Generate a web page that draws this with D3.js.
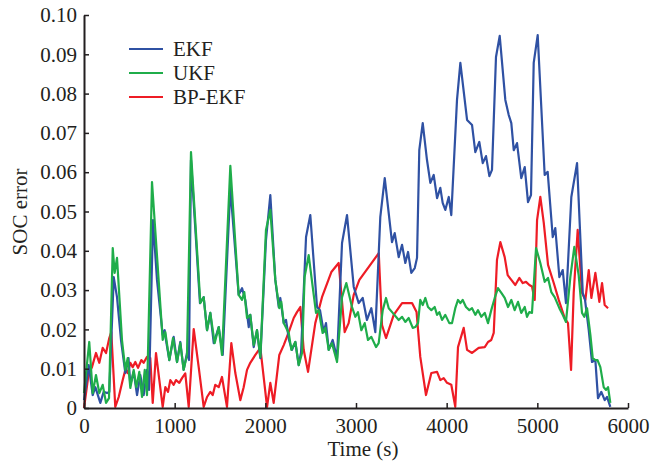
<!DOCTYPE html>
<html>
<head>
<meta charset="utf-8">
<script src="https://cdn.jsdelivr.net/npm/d3@7"></script>
<style>
  body { margin: 0; background: #fff; }
  text { font-family: "Liberation Serif", "Times New Roman", serif; fill: #231f20; }
</style>
</head>
<body>
<div id="chart"></div>
<script>
var width = 653,
    height = 463,
    margin = {top: 15, right: 25, bottom: 55, left: 84};

var seriesNames = ["EKF", "UKF", "BP-EKF"],
    seriesColors = ["#2f51a3", "#1fad4a", "#ee1c25"];

var xTicks = [0, 1000, 2000, 3000, 4000, 5000, 6000],
    yTicks = [0, 0.01, 0.02, 0.03, 0.04, 0.05, 0.06, 0.07, 0.08, 0.09, 0.10];

// EKF
var ekfTime = [0,52,96,125,180,217,254,279,328,364,408,456,491,511,548,585,621,658,695,717,761,805,868,890,904,941,989,1026,1062,1099,1136,1158,
  1180,1279,1320,1357,1393,1431,1486,1530,1614,1706,1743,1779,1817,1834,1872,1908,1945,2007,2055,2110,2148,2165,2203,2228,2261,2294,2331,2368,2394,
  2449,2496,2570,2603,2644,2669,2699,2743,2791,2846,2901,2975,3030,3074,3121,3169,3213,3268,3317,3397,3427,3471,3508,3544,3574,3610,3648,3673,
  3698,3736,3783,3820,3857,3894,3930,3956,3985,4023,4051,4114,4151,4225,4280,4316,4360,4398,4434,4471,4500,4544,4585,4647,4684,4713,4740,4776,
  4823,4861,4897,4930,4960,5004,5081,5114,5170,5198,5243,5280,5316,5375,5438,5501,5526,5567,5603,5640,5669,5706,5743,5769,5805];
var ekfErr = [0.0020,0.0109,0.0033,0.0053,0.0013,0.0041,0.0038,0.0041,0.0333,0.0282,0.0173,0.0089,0.0127,0.0059,0.0092,0.0033,0.0084,0.0033,0.0097,0.0046,
  0.0478,0.0326,0.0186,0.0198,0.0173,0.0122,0.0181,0.0117,0.0168,0.0097,0.0140,0.0122,
  0.0631,0.0267,0.0282,0.0198,0.0242,0.0165,0.0206,0.0135,0.0560,0.0288,0.0305,0.0275,0.0206,0.0237,0.0155,0.0198,0.0127,0.0427,0.0542,0.0326,0.0257,
  0.0280,0.0216,0.0224,0.0173,0.0148,0.0168,0.0109,0.0142,
  0.0435,0.0491,0.0257,0.0249,0.0193,0.0216,0.0148,0.0173,0.0127,0.0420,0.0491,0.0308,0.0267,0.0280,0.0224,0.0254,0.0193,0.0486,0.0585,0.0422,0.0445,
  0.0384,0.0415,0.0369,0.0397,0.0344,0.0356,0.0382,
  0.0656,0.0725,0.0631,0.0573,0.0593,0.0534,0.0560,0.0522,0.0504,0.0537,0.0491,0.0784,0.0878,0.0733,0.0720,0.0651,0.0677,0.0623,0.0641,0.0590,0.0606,
  0.0893,0.0947,0.0784,0.0746,0.0725,0.0656,0.0674,
  0.0585,0.0613,0.0524,0.0542,0.0878,0.0949,0.0593,0.0601,0.0435,0.0458,0.0333,0.0351,0.0267,0.0537,0.0623,0.0293,0.0275,0.0198,0.0117,0.0122,0.0025,
  0.0041,0.0020,0.0028,0.0003];

// UKF
var ukfTime = [0,58,96,132,169,206,243,276,317,338,364,419,456,482,511,548,577,610,640,670,695,750,868,897,941,982,1026,1062,1099,1136,
  1180,1283,1320,1357,1393,1441,1486,1522,1614,1706,1743,1768,1798,1834,1872,1908,1945,2007,2055,2110,2154,2176,2203,2258,2287,2331,2368,2405,
  2433,2478,2559,2588,2632,2662,2699,2735,2791,2846,2893,2956,2993,3022,3059,3096,3132,3169,3221,3250,3295,3331,3361,3405,3471,3508,3544,3581,3626,3654,
  3684,3709,3736,3765,3794,3831,3868,3894,3919,3949,3985,4029,4059,4095,4125,4151,4177,4213,4250,4280,4316,4346,4382,4420,4456,4492,4530,4566,4603,
  4640,4677,4713,4750,4787,4823,4861,4886,4912,4941,4986,5033,5081,5118,5154,5191,5243,5280,5316,5364,5408,5456,5493,5518,5548,5585,5611,5640,5664,
  5695,5732,5758,5780,5805];
var ukfErr = [0.0038,0.0168,0.0038,0.0084,0.0038,0.0059,0.0013,0.0025,0.0407,0.0344,0.0382,0.0173,0.0097,0.0127,0.0051,0.0097,0.0053,0.0092,0.0028,0.0097,
  0.0033,0.0575,0.0173,0.0193,0.0122,0.0178,0.0117,0.0165,0.0097,0.0135,
  0.0651,0.0267,0.0282,0.0198,0.0242,0.0165,0.0206,0.0135,0.0616,0.0288,0.0275,0.0295,0.0229,0.0237,0.0160,0.0198,0.0130,0.0453,0.0504,0.0326,0.0254,
  0.0270,0.0216,0.0191,0.0148,0.0168,0.0109,0.0140,
  0.0333,0.0389,0.0242,0.0249,0.0191,0.0204,0.0148,0.0165,0.0117,0.0282,0.0318,0.0257,0.0232,0.0244,0.0198,0.0216,0.0173,0.0181,0.0155,0.0165,0.0249,
  0.0280,0.0254,0.0242,0.0224,0.0232,0.0219,0.0229,0.0204,0.0206,
  0.0216,0.0275,0.0262,0.0280,0.0257,0.0249,0.0257,0.0237,0.0244,0.0224,0.0237,0.0216,0.0216,0.0254,0.0275,0.0267,0.0275,0.0257,0.0249,0.0254,0.0237,
  0.0249,0.0232,0.0242,0.0216,0.0249,0.0280,0.0305,0.0293,
  0.0280,0.0257,0.0275,0.0249,0.0270,0.0242,0.0257,0.0232,0.0244,0.0242,0.0407,0.0369,0.0321,0.0331,0.0295,0.0282,0.0254,0.0237,0.0219,0.0333,0.0410,
  0.0338,0.0242,0.0232,0.0254,0.0186,0.0127,0.0122,0.0122,
  0.0104,0.0053,0.0046,0.0053,0.0013];

// BP-EKF
var bpTime = [0,52,88,132,169,206,243,279,301,345,383,427,456,482,511,537,566,596,632,658,695,731,758,794,831,868,897,927,952,989,1015,1051,1081,1117,
  1155,1210,1265,1320,1357,1393,1420,1448,1486,1522,1577,1625,1669,1724,1761,1798,1834,1890,1945,2019,2055,2092,2154,2203,2258,2313,2349,2386,
  2423,2471,2551,2625,2728,2809,2875,2919,2975,3037,3251,3287,3331,3416,3508,3618,3668,3709,3772,3831,3894,3930,3967,4004,4051,
  4095,4125,4188,4225,4280,4353,4420,4456,4492,4519,4555,4592,4640,4673,4713,4757,4801,4839,4875,4912,4941,4971,4997,5033,5071,5118,5181,5236,
  5302,5338,5372,5401,5445,5493,5530,5567,5596,5640,5684,5714,5743,5780];
var bpErr = [0,0.0089,0.0104,0.0140,0.0115,0.0153,0.0140,0.0178,0.0193,0.0003,0.0028,0.0071,0.0097,0.0089,0.0115,0.0104,0.0117,0.0102,0.0122,0.0115,
  0.0130,0.0127,0.0013,0.0140,0.0071,0.0003,0.0053,0.0041,0.0071,0.0059,0.0071,0.0064,0.0076,0.0088,
  0.0003,0.0201,0.0104,0.0003,0.0028,0.0041,0.0033,0.0059,0.0053,0.0079,0.0003,0.0165,0.0089,0.0020,0.0053,0.0097,0.0115,0.0135,0.0153,0.0003,0.0064,
  0.0013,0.0135,0.0160,0.0193,0.0229,0.0244,0.0257,
  0.0148,0.0092,0.0216,0.0282,0.0346,0.0369,0.0193,0.0216,0.0288,0.0326,0.0394,0.0211,0.0178,0.0237,0.0267,0.0267,0.0244,0.0130,0.0033,0.0089,0.0092,
  0.0071,0.0076,0.0064,0.0059,
  0.0003,0.0155,0.0204,0.0148,0.0140,0.0153,0.0155,0.0168,0.0173,0.0191,0.0377,0.0422,0.0384,0.0338,0.0326,0.0313,0.0331,0.0318,0.0321,0.0313,0.0309,
  0.0275,0.0478,0.0537,0.0471,0.0364,0.0318,0.0275,
  0.0229,0.0216,0.0097,0.0293,0.0453,0.0293,0.0275,0.0351,0.0280,0.0344,0.0270,0.0318,0.0262,0.0254];

var series = [
  {name: seriesNames[0], color: seriesColors[0], t: ekfTime, v: ekfErr},
  {name: seriesNames[1], color: seriesColors[1], t: ukfTime, v: ukfErr},
  {name: seriesNames[2], color: seriesColors[2], t: bpTime, v: bpErr}
];

var x = d3.scaleLinear().domain([0, 6000]).range([margin.left, width - margin.right]);
var y = d3.scaleLinear().domain([0, 0.10]).range([height - margin.bottom, margin.top]);

var svg = d3.select("#chart").append("svg")
  .attr("width", width)
  .attr("height", height);

var line = d3.line()
  .x(function(d) { return x(d[0]); })
  .y(function(d) { return y(d[1]); });

// draw BP-EKF first, then EKF, UKF on top
[2, 0, 1].forEach(function(i) {
  var s = series[i];
  svg.append("path")
    .datum(d3.zip(s.t, s.v))
    .attr("fill", "none")
    .attr("stroke", s.color)
    .attr("stroke-width", 2.2)
    .attr("stroke-linejoin", "round")
    .attr("d", line);
});

var xAxis = svg.append("g")
  .attr("transform", "translate(0," + (height - margin.bottom) + ")")
  .call(d3.axisBottom(x).tickValues(xTicks).tickFormat(d3.format("d"))
    .tickSize(-5).tickSizeOuter(0).tickPadding(10));

var yAxis = svg.append("g")
  .attr("transform", "translate(" + margin.left + ",0)")
  .call(d3.axisLeft(y).tickValues(yTicks)
    .tickFormat(function(d) { return d === 0 ? "0" : d3.format(".2f")(d); })
    .tickSize(-5).tickSizeOuter(0).tickPadding(7));

[xAxis, yAxis].forEach(function(a) {
  a.select(".domain").attr("stroke", "#231f20").attr("stroke-width", 2);
  a.selectAll(".tick line").attr("stroke", "#231f20").attr("stroke-width", 1.5);
  a.selectAll("text").attr("font-size", 21).attr("fill", "#231f20")
    .attr("font-family", "Liberation Serif, Times New Roman, serif");
});

svg.append("text")
  .attr("x", 363)
  .attr("y", 456)
  .attr("text-anchor", "middle")
  .attr("font-size", 21)
  .text("Time (s)");

svg.append("text")
  .attr("transform", "translate(27,212) rotate(-90)")
  .attr("text-anchor", "middle")
  .attr("font-size", 21)
  .text("SOC error");

var legend = svg.append("g");
series.forEach(function(s, i) {
  var ly = 49 + i * 24;
  legend.append("line")
    .attr("x1", 129).attr("x2", 163)
    .attr("y1", ly).attr("y2", ly)
    .attr("stroke", s.color)
    .attr("stroke-width", 2.2);
  legend.append("text")
    .attr("x", 173)
    .attr("y", ly)
    .attr("dy", "0.35em")
    .attr("font-size", 21)
    .text(s.name);
});
</script>
</body>
</html>
